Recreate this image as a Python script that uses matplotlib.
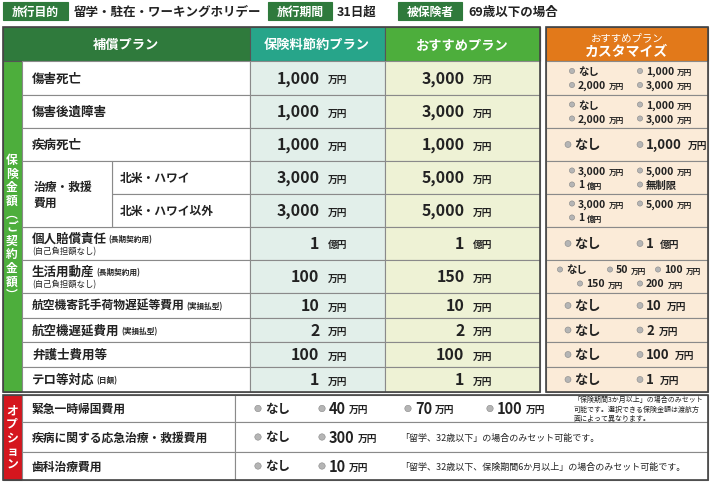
import matplotlib
matplotlib.use("Agg")
import matplotlib.pyplot as plt
from matplotlib.patches import Rectangle, Circle

plt.rcParams["font.family"] = "Noto Sans CJK JP"

top_labels = ["旅行目的", "旅行期間", "被保険者"]
top_values = ["留学・駐在・ワーキングホリデー", "31日超", "69歳以下の場合"]
headers = ["補償プラン", "保険料節約プラン", "おすすめプラン"]
row_labels = ["傷害死亡", "傷害後遺障害", "疾病死亡", "北米・ハワイ", "北米・ハワイ以外",
              "個人賠償責任", "生活用動産", "航空機寄託手荷物遅延等費用", "航空機遅延費用",
              "弁護士費用等", "テロ等対応"]
row_notes = ["", "", "", "", "", "(長期契約用)", "(長期契約用)", "(実損払型)", "(実損払型)", "", "(日額)"]
row_sub = ["", "", "", "", "", "(自己負担額なし)", "(自己負担額なし)", "", "", "", ""]
saving_vals = ["1,000", "1,000", "1,000", "3,000", "3,000", "1", "100", "10", "2", "100", "1"]
recommend_vals = ["3,000", "3,000", "1,000", "5,000", "5,000", "1", "150", "10", "2", "100", "1"]
units = ["万円", "万円", "万円", "万円", "万円", "億円", "万円", "万円", "万円", "万円", "万円"]
custom_opts = [
    [("なし", ""), ("1,000", "万円"), ("2,000", "万円"), ("3,000", "万円")],
    [("なし", ""), ("1,000", "万円"), ("2,000", "万円"), ("3,000", "万円")],
    [("なし", ""), ("1,000", "万円")],
    [("3,000", "万円"), ("5,000", "万円"), ("1", "億円"), ("無制限", "")],
    [("3,000", "万円"), ("5,000", "万円"), ("1", "億円")],
    [("なし", ""), ("1", "億円")],
    [("なし", ""), ("50", "万円"), ("100", "万円"), ("150", "万円"), ("200", "万円")],
    [("なし", ""), ("10", "万円")],
    [("なし", ""), ("2", "万円")],
    [("なし", ""), ("100", "万円")],
    [("なし", ""), ("1", "万円")],
]
option_labels = ["緊急一時帰国費用", "疾病に関する応急治療・救援費用", "歯科治療費用"]
option_choices = [[("なし", ""), ("40", "万円"), ("70", "万円"), ("100", "万円")],
                  [("なし", ""), ("300", "万円")],
                  [("なし", ""), ("10", "万円")]]
option_notes = ["「保険期間3か月以上」の場合のみセット\n可能です。選択できる保険金額は渡航方\n面によって異なります。",
                "「留学、32歳以下」の場合のみセット可能です。",
                "「留学、32歳以下、保険期間6か月以上」の場合のみセット可能です。"]

fig = plt.figure(figsize=(7.1, 4.85), dpi=100)
ax = fig.add_axes([0, 0, 1, 1])
ax.set_xlim(0, 710); ax.set_ylim(485, 0); ax.axis("off")

DG = "#2f7a3c"; TEAL = "#27a58a"; GRN = "#4dae3c"; ORG = "#e2791a"; RED = "#d5161e"
C_S = "#e2efea"; C_R = "#eef2d5"; C_C = "#fbebd8"; LINE = "#8a8a8a"

def rect(x0, y0, x1, y1, fc, ec=LINE, lw=0.8):
    ax.add_patch(Rectangle((x0, y0), x1 - x0, y1 - y0, fc=fc, ec=ec, lw=lw))

def txt(x, y, s, size=9, c="#222", ha="center", w="bold", **k):
    return ax.text(x, y, s, fontsize=size, color=c, ha=ha, va="center", fontweight=w, **k)

def after(t, s, size, gap=2, w="bold"):
    return ax.annotate(s, xy=(1, 0.45), xycoords=t, xytext=(gap, 0), textcoords="offset points",
                       fontsize=size, fontweight=w, va="center", ha="left", color="#222")

def dot(x, y, r=3.2):
    ax.add_patch(Circle((x, y), r, fc="#b5b5b5", ec="#888", lw=0.4))

tb = [(3, 68, 74), (268, 332, 337), (398, 462, 468)]
for (x0, x1, tx), lab, val in zip(tb, top_labels, top_values):
    rect(x0, 3, x1, 21, DG, ec=DG)
    txt((x0 + x1) / 2, 12, lab, 8.5, "white")
    txt(tx, 12, val, 9, ha="left")

bounds = [62, 96, 129, 162, 195, 228, 261, 294, 319, 343, 368, 393]
rect(3, 28, 540, 62, DG, ec="#555")
rect(250, 28, 385, 62, TEAL, ec="#555")
rect(385, 28, 540, 62, GRN, ec="#555")
txt(126, 45, headers[0], 9.5, "white")
txt(317, 45, headers[1], 9.5, "white")
txt(462, 45, headers[2], 9.5, "white")
rect(546, 28, 708, 62, ORG, ec="#555")
txt(627, 38, "おすすめプラン", 7.5, "white", w="normal")
txt(627, 52, "カスタマイズ", 10, "white")
rect(3, 62, 22, 393, GRN, ec="#555")
txt(12, 228, "保\n険\n金\n額\n︵\nご\n契\n約\n金\n額\n︶", 8.5, "white", linespacing=1.05)

for i in range(11):
    y0, y1 = bounds[i], bounds[i + 1]; yc = (y0 + y1) / 2
    if i in (3, 4):
        rect(112, y0, 250, y1, "white")
        txt(120, yc, row_labels[i], 8.5, ha="left")
    else:
        rect(22, y0, 250, y1, "white")
        ly = yc - 5 if row_sub[i] else yc
        fs = 8.5 if len(row_labels[i]) > 10 else 9
        t = txt(32, ly, row_labels[i], fs, ha="left")
        if row_notes[i]:
            after(t, row_notes[i], 5.5, gap=1)
        if row_sub[i]:
            txt(32, yc + 7, row_sub[i], 6, ha="left", w="normal")
    for x0, x1, fc, vals in [(250, 385, C_S, saving_vals), (385, 540, C_R, recommend_vals)]:
        rect(x0, y0, x1, y1, fc)
        xc = (x0 + x1) / 2
        txt(xc + 2, yc, vals[i], 11.5, ha="right")
        txt(xc + 10, yc + 1, units[i], 7, ha="left")
    rect(546, y0, 708, y1, C_C)
    opts = custom_opts[i]
    if len(opts) == 2:
        pos = [(568, yc), (640, yc)]
    elif len(opts) == 5:
        pos = [(560, yc - 7), (610, yc - 7), (658, yc - 7), (580, yc + 7), (640, yc + 7)]
    else:
        pos = [(572, yc - 7), (640, yc - 7), (572, yc + 7), (640, yc + 7)][:len(opts)]
    small = len(opts) > 2
    for (px, py), (v, u) in zip(pos, opts):
        dot(px, py, 2.6 if small else 3.0)
        fs = 7.5 if small else 9.5
        t = ax.text(px + 6, py, v, fontsize=fs, fontweight="bold", va="center", color="#222")
        if u:
            after(t, u, 5.5 if small else 7, gap=2 if small else 4)
rect(22, 162, 112, 228, "white")
txt(34, 195, "治療・救援\n費用", 8.5, ha="left", linespacing=1.3)
rect(3, 28, 540, 393, "none", ec="#444", lw=1.2)
rect(546, 28, 708, 393, "none", ec="#444", lw=1.2)

ob = [396, 423, 453, 481]
rect(3, 396, 22, 481, RED, ec="#555")
txt(12, 438, "オ\nプ\nシ\nョ\nン", 8.5, "white", linespacing=1.05)
for i in range(3):
    y0, y1 = ob[i], ob[i + 1]; yc = (y0 + y1) / 2
    rect(22, y0, 235, y1, "white")
    rect(235, y0, 708, y1, "white")
    txt(32, yc, option_labels[i], 8.5, ha="left")
    xs = [258, 322, 408, 490]
    for x, (v, u) in zip(xs, option_choices[i]):
        dot(x, yc, 3.2)
        t = ax.text(x + 7, yc, v, fontsize=10.5 if u else 9, fontweight="bold", va="center", color="#222")
        if u:
            after(t, u, 7, gap=2)
    if i == 0:
        txt(574, yc, option_notes[i], 5, ha="left", w="normal", linespacing=1.2)
    else:
        txt(400, yc, option_notes[i], 6.5, ha="left", w="normal")
rect(3, 396, 708, 481, "none", ec="#444", lw=1.2)

fig.savefig("out.png", dpi=100)
